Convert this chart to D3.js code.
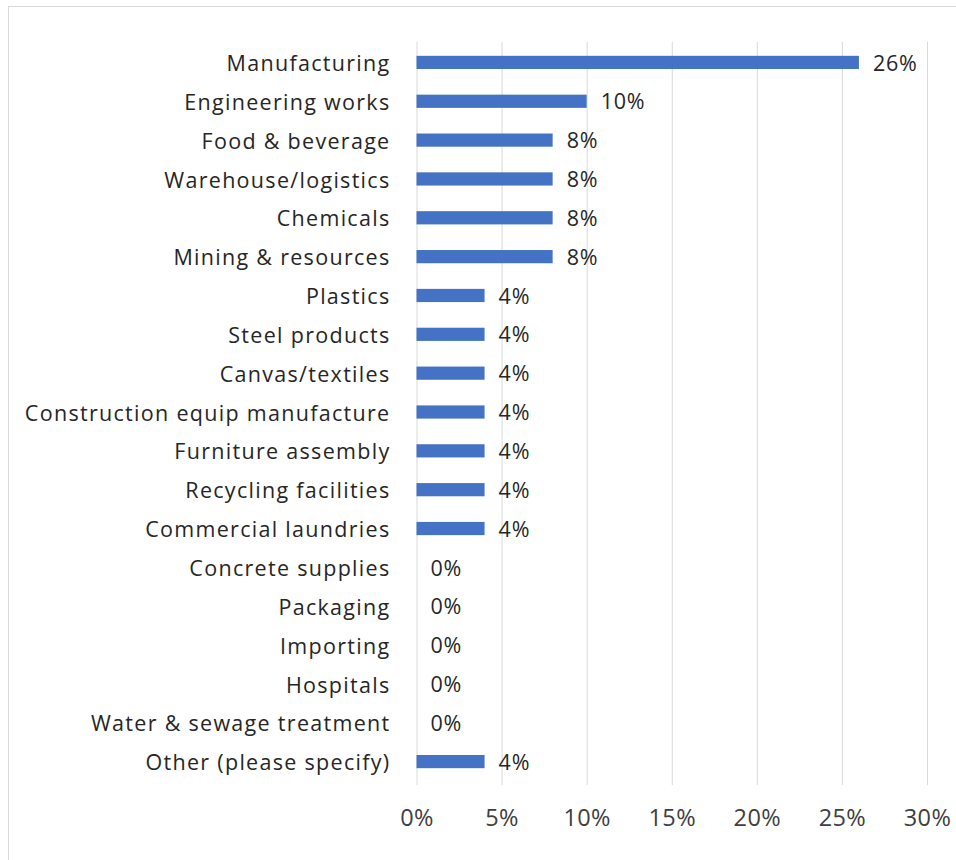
<!DOCTYPE html>
<html>
<head>
<meta charset="utf-8">
<script src="https://cdn.jsdelivr.net/npm/d3@7"></script>
<style>
  html, body { margin: 0; padding: 0; background: #fff; }
  svg { display: block; }
  text { font-family: "Open Sans", "Noto Sans", sans-serif; }
</style>
</head>
<body>
<svg id="chart" width="956" height="860"></svg>
<script>
// Industry sectors and the share of responses for each
const categories = [
  "Manufacturing", "Engineering works", "Food & beverage", "Warehouse/logistics",
  "Chemicals", "Mining & resources", "Plastics", "Steel products",
  "Canvas/textiles", "Construction equip manufacture", "Furniture assembly",
  "Recycling facilities", "Commercial laundries", "Concrete supplies",
  "Packaging", "Importing", "Hospitals", "Water & sewage treatment",
  "Other (please specify)"
];
const values = [26, 10, 8, 8, 8, 8, 4, 4, 4, 4, 4, 4, 4, 0, 0, 0, 0, 0, 4];
const xTicks = [0, 5, 10, 15, 20, 25, 30];

const svg = d3.select("#chart");

// outer chart frame
svg.append("rect")
  .attr("x", 8.5).attr("y", 6.5)
  .attr("width", 960).attr("height", 870)
  .attr("fill", "#fff").attr("stroke", "#d9d9d9").attr("stroke-width", 1);

const x = d3.scaleLinear().domain([0, 30]).range([416.5, 927]);
const y = d3.scaleBand().domain(categories).range([43, 781]).paddingInner(0.66).paddingOuter(0.33);

// vertical gridlines
const grid = d3.axisBottom(x).tickValues(xTicks).tickSize(-(785 - 42)).tickFormat("");
svg.append("g")
  .attr("transform", "translate(0,785)")
  .call(grid)
  .call(g => g.select(".domain").remove())
  .call(g => g.selectAll("line").attr("stroke", "#d9d9d9").attr("stroke-width", 1));

// x-axis tick labels
const xAxis = d3.axisBottom(x).tickValues(xTicks).tickSize(0).tickPadding(0).tickFormat(d => d + "%");
svg.append("g")
  .attr("transform", "translate(0,809)")
  .call(xAxis)
  .call(g => g.select(".domain").remove())
  .call(g => g.selectAll("text")
    .attr("fill", "#404040")
    .attr("font-size", 23.5)
    .attr("letter-spacing", 0.4)
    .attr("dy", "0.72em")
    .style("font-family", "'Open Sans', sans-serif"));

// category axis labels
const yAxis = d3.axisLeft(y).tickSize(0).tickPadding(26);
svg.append("g")
  .attr("transform", `translate(${x(0)},0)`)
  .call(yAxis)
  .call(g => g.select(".domain").remove())
  .call(g => g.selectAll("text")
    .attr("fill", "#262626")
    .attr("font-size", 21.5)
    .attr("letter-spacing", 1.3)
    .attr("dy", "0.4em")
    .style("font-family", "'Open Sans', sans-serif"));

// bars
svg.append("g")
  .selectAll("rect")
  .data(values)
  .join("rect")
  .attr("x", x(0))
  .attr("y", (d, i) => y(categories[i]))
  .attr("width", d => x(d) - x(0))
  .attr("height", y.bandwidth())
  .attr("fill", "#4472c4");

// value labels
svg.append("g")
  .selectAll("text")
  .data(values)
  .join("text")
  .attr("x", d => x(d) + 14)
  .attr("y", (d, i) => y(categories[i]) + y.bandwidth() / 2)
  .attr("dy", "0.38em")
  .attr("fill", "#262626")
  .attr("font-size", 21.5)
  .attr("letter-spacing", 0.8)
  .text(d => d + "%");
</script>
</body>
</html>
